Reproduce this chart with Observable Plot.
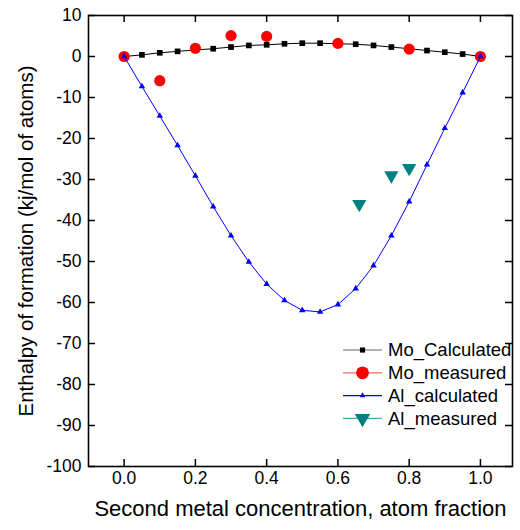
<!DOCTYPE html>
<html>
<head>
<meta charset="utf-8">
<script src="https://cdn.jsdelivr.net/npm/d3@7"></script>
<script src="https://cdn.jsdelivr.net/npm/@observablehq/plot@0.6"></script>
<style>
  body { margin: 0; background: white; }
  #wrap { position: relative; width: 520px; height: 530px; font-family: "Liberation Sans", Arial, sans-serif; }
  #legend { position: absolute; left: 336px; top: 338px; }
</style>
</head>
<body>
<div id="wrap"></div>
<script>
// ---- data ----
const conc = [0, 0.05, 0.1, 0.15, 0.2, 0.25, 0.3, 0.35, 0.4, 0.45, 0.5, 0.55, 0.6, 0.65, 0.7, 0.75, 0.8, 0.85, 0.9, 0.95, 1.0];
const moCalculated = [0, 0.4, 0.9, 1.25, 1.6, 1.9, 2.3, 2.7, 2.85, 3.1, 3.25, 3.25, 3.1, 3.0, 2.7, 2.3, 1.9, 1.45, 1.05, 0.6, 0];
const alCalculated = [0, -7.3, -14.5, -21.7, -29.1, -36.6, -43.7, -50.1, -55.5, -59.5, -61.9, -62.3, -60.5, -56.6, -51.0, -43.7, -35.4, -26.4, -17.5, -8.8, 0];
const moMeasuredX = [0, 0.1, 0.2, 0.3, 0.4, 0.6, 0.8, 1.0];
const moMeasuredY = [0, -5.9, 2.0, 5.1, 4.9, 3.2, 1.8, 0];
const alMeasuredX = [0.66, 0.75, 0.8];
const alMeasuredY = [-36, -29, -27.2];
const xTicks = [0, 0.2, 0.4, 0.6, 0.8, 1.0];
const yTicks = [-100, -90, -80, -70, -60, -50, -40, -30, -20, -10, 0, 10];
const xTickLabels = ["0.0", "0.2", "0.4", "0.6", "0.8", "1.0"];
const yTickLabels = ["-100", "-90", "-80", "-70", "-60", "-50", "-40", "-30", "-20", "-10", "0", "10"];
const seriesNames = ["Mo_Calculated", "Mo_measured", "Al_calculated", "Al_measured"];
const xTitle = "Second metal concentration, atom fraction";
const yTitle = "Enthalpy of formation (kj/mol of atoms)";

const moCalc = conc.map((x, i) => ({x, y: moCalculated[i]}));
const alCalc = conc.map((x, i) => ({x, y: alCalculated[i]}));
const moMeas = moMeasuredX.map((x, i) => ({x, y: moMeasuredY[i]}));
const alMeas = alMeasuredX.map((x, i) => ({x, y: alMeasuredY[i]}));
const xT = xTicks.map((v, i) => ({v, label: xTickLabels[i]}));
const yT = yTicks.map((v, i) => ({v, label: yTickLabels[i]}));

const W = 520, H = 530, mL = 88, mR = 8, mT = 15, mB = 64;
const innerW = W - mL - mR, innerH = H - mT - mB, tk = 7;
const FONT = "'Liberation Sans', Arial, sans-serif";

const chart = Plot.plot({
  width: W, height: H,
  marginLeft: mL, marginRight: mR, marginTop: mT, marginBottom: mB,
  x: {domain: [-0.1, 1.09], axis: null},
  y: {domain: [-100, 10], axis: null},
  style: {fontFamily: FONT, fontSize: "17.5px", background: "white", color: "black"},
  marks: [
    // tick labels
    Plot.text(xT, {x: "v", text: "label", frameAnchor: "bottom", dy: 17, fontSize: 17.5, fill: "black"}),
    Plot.text(yT, {y: "v", text: "label", frameAnchor: "left", dx: -7, textAnchor: "end", fontSize: 17.5, fill: "black"}),
    // inward ticks on all four sides
    Plot.tickX(xTicks, {insetTop: innerH - tk, stroke: "black", strokeWidth: 1.5}),
    Plot.tickX(xTicks, {insetBottom: innerH - tk, stroke: "black", strokeWidth: 1.5}),
    Plot.tickY(yTicks, {insetRight: innerW - tk, stroke: "black", strokeWidth: 1.5}),
    Plot.tickY(yTicks, {insetLeft: innerW - tk, stroke: "black", strokeWidth: 1.5}),
    Plot.frame({stroke: "black", strokeWidth: 1.6}),
    // axis titles
    Plot.text([xTitle], {frameAnchor: "bottom", dy: 49, fontSize: 22, fill: "black"}),
    Plot.text([yTitle], {frameAnchor: "left", textAnchor: "middle", dx: -62, rotate: -90, fontSize: 20.5, fill: "black"}),
    // series
    Plot.line(moCalc, {x: "x", y: "y", stroke: "black", strokeWidth: 1}),
    Plot.dot(moCalc, {x: "x", y: "y", symbol: "square", r: 3.2, fill: "black"}),
    Plot.dot(moMeas, {x: "x", y: "y", symbol: "circle", r: 5.6, fill: "#ff0000"}),
    Plot.line(alCalc, {x: "x", y: "y", stroke: "#0000ff", strokeWidth: 1}),
    Plot.dot(alCalc, {x: "x", y: "y", symbol: "triangle", r: 2.4, fill: "#0000ff"}),
    Plot.dot(alMeas, {x: "x", y: "y", symbol: "triangle", rotate: 180, r: 5.3, fill: "#008080"})
  ]
});

const wrap = document.getElementById("wrap");
wrap.appendChild(chart);

// legend (inside plot area)
const leg = d3.select(wrap).append("svg").attr("id", "legend").attr("width", 184).attr("height", 100);
const rowH = 22.8;
const lineCol = ["#666666", "#ff6666", "#0000ff", "#44aaaa"];
const symType = [d3.symbolSquare, d3.symbolCircle, d3.symbolTriangle, d3.symbolTriangle];
const symSize = [2.9, 6.4, 2.1, 5.7].map(r => Math.PI * r * r);
const symFill = ["black", "#ff0000", "#0000ff", "#008080"];
const symRot = [0, 0, 0, 180];
seriesNames.forEach((name, i) => {
  const g = leg.append("g").attr("transform", `translate(0,${12 + i * rowH})`);
  g.append("line").attr("x1", 7).attr("x2", 46).attr("y1", 0).attr("y2", 0).attr("stroke", lineCol[i]).attr("stroke-width", 1.2);
  g.append("path").attr("d", d3.symbol(symType[i], symSize[i])()).attr("transform", `translate(26.5,0) rotate(${symRot[i]})`).attr("fill", symFill[i]);
  g.append("text").attr("x", 52).attr("y", 0).attr("dy", "0.35em").attr("font-size", 18.5).attr("font-family", FONT).text(name);
});
</script>
</body>
</html>
